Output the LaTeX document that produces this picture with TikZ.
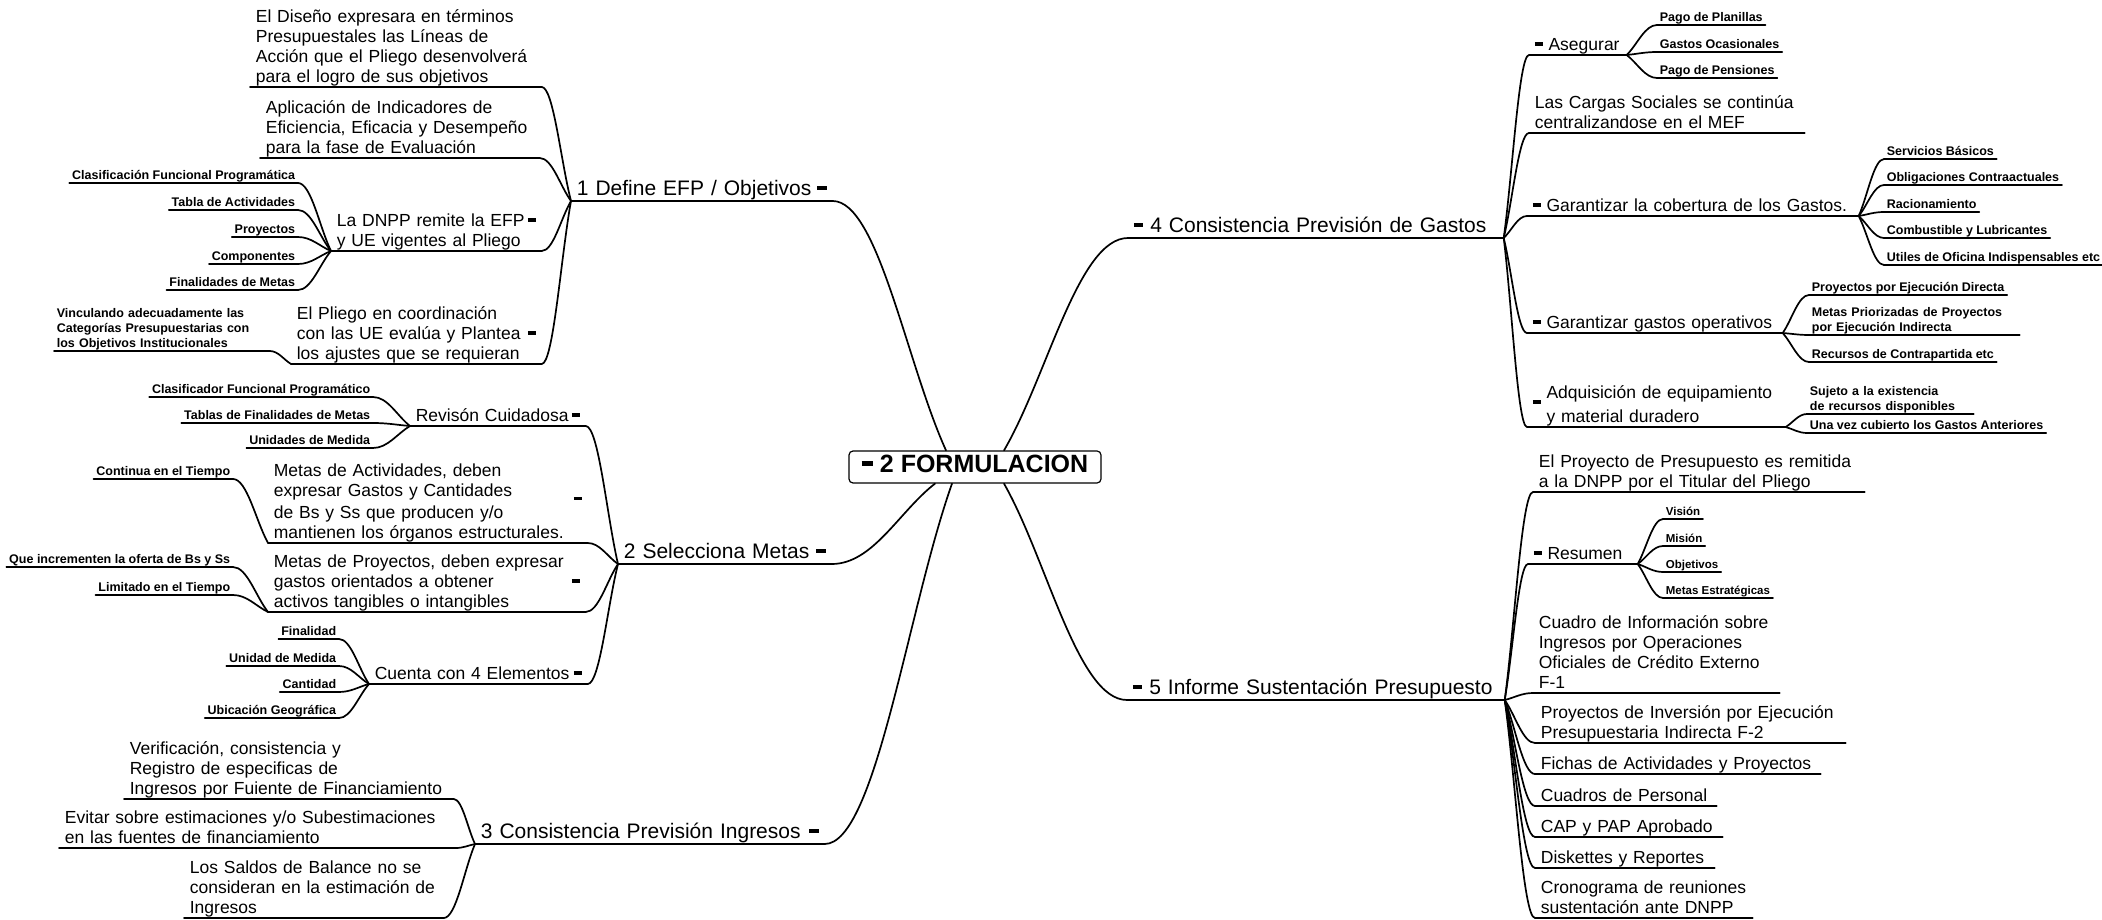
\documentclass[tikz,border=0pt]{standalone}
\usepackage{fontspec}
\setmainfont{Liberation Sans}
\usetikzlibrary{calc}

\newcommand\foldmark{\rule[.27em]{.45em}{.2em}}
\newcommand\foldright{\hskip 0pt plus 1filll\foldmark}

\begin{document}
\begin{tikzpicture}[x=1pt,y=-1pt,line width=1.7pt,line cap=round,
  every node/.style={inner ysep=0pt,execute at end node={\rule[-.22em]{0pt}{.22em}}},
  title/.style={font=\fontsize{21}{24}\selectfont,inner xsep=5pt,align=left},
  note/.style={font=\fontsize{17.5}{19.8}\selectfont,inner xsep=5pt,align=left},
  leaf/.style={font=\fontsize{12.5}{14.8}\selectfont\bfseries,inner xsep=2pt},
  tiny/.style={leaf,font=\fontsize{11.5}{13.5}\selectfont\bfseries},
  twig/.style={to path={.. controls ($(\tikztostart)!.35!(\tikztotarget)$)
    and ($(\tikztotarget)!.4!(\tikztostart|-\tikztotarget)$) .. (\tikztotarget)}}]

\path[use as bounding box,fill=white] (0,0) rectangle (2102,920);

\node[draw,line width=1.2pt,rounded corners=4pt,minimum width=252pt,minimum height=32pt,
  font=\fontsize{25}{28}\selectfont\bfseries] (formulacion) at (975,467) {\foldmark\ 2 FORMULACION};
\coordinate (f1) at ($(formulacion.north)+(-29,0)$);
\coordinate (f4) at ($(formulacion.north)+(29,0)$);
\coordinate (f2) at ($(formulacion.south)+(-40,0)$);
\coordinate (f3) at ($(formulacion.south)+(-23,0)$);
\coordinate (f5) at ($(formulacion.south)+(29,0)$);

% 1 Define EFP
\node[title,text width=250pt,anchor=south west] (b1) at (571,201) {1 Define EFP / Objetivos\foldright};
\node[note,text width=280pt,anchor=south west] (c11) at (250,87) {El Diseño expresara en términos\\Presupuestales las Líneas de\\Acción que el Pliego desenvolverá\\para el logro de sus objetivos};
\node[note,text width=268pt,anchor=south west] (c12) at (260,158) {Aplicación de Indicadores de\\Eficiencia, Eficacia y Desempeño\\para la fase de Evaluación};
\node[note,text width=199pt,anchor=south west] (c13) at (331,251) {La DNPP remite la EFP\foldright\\y UE vigentes al Pliego};
\node[note,text width=239pt,anchor=south west] (c14) at (291,364) {El Pliego en coordinación\\con las UE evalúa y Plantea\foldright\\los ajustes que se requieran};
\node[leaf,anchor=south east] (l131) at (298,183) {Clasificación Funcional Programática};
\node[leaf,anchor=south east] (l132) at (298,210) {Tabla de Actividades};
\node[leaf,anchor=south east] (l133) at (298,237) {Proyectos};
\node[leaf,anchor=south east] (l134) at (298,264) {Componentes};
\node[leaf,anchor=south east] (l135) at (298,290) {Finalidades de Metas};
\node[leaf,text width=210pt,align=left,anchor=south west] (l141) at (54,351) {Vinculando adecuadamente las\\Categorías Presupuestarias con\\los Objetivos Institucionales};

% 2 Selecciona Metas
\node[title,text width=202pt,anchor=south west] (b2) at (618,564) {2 Selecciona Metas\foldright};
\node[note,text width=164pt,anchor=south west] (c21) at (410,426) {Revisón Cuidadosa\foldright};
\node[note,text width=308pt,anchor=south west] (c22) at (268,543) {Metas de Actividades, deben\\expresar Gastos y Cantidades\hskip 0pt plus 1filll\raisebox{-.5em}{\foldmark}\\de Bs y Ss que producen y/o\\mantienen los órganos estructurales.};
\node[note,text width=306pt,anchor=south west] (c23) at (268,612) {Metas de Proyectos, deben expresar\\gastos orientados a obtener\foldright\\activos tangibles o intangibles};
\node[note,text width=207pt,anchor=south west] (c24) at (369,684) {Cuenta con 4 Elementos\foldright};
\node[leaf,anchor=south east] (l211) at (373,397) {Clasificador Funcional Programático};
\node[leaf,anchor=south east] (l212) at (373,423) {Tablas de Finalidades de Metas};
\node[leaf,anchor=south east] (l213) at (373,448) {Unidades de Medida};
\node[leaf,anchor=south east] (l221) at (233,479) {Continua en el Tiempo};
\node[leaf,anchor=south east] (l231) at (233,567) {Que incrementen la oferta de Bs y Ss};
\node[leaf,anchor=south east] (l232) at (233,595) {Limitado en el Tiempo};
\node[leaf,anchor=south east] (l241) at (339,639) {Finalidad};
\node[leaf,anchor=south east] (l242) at (339,666) {Unidad de Medida};
\node[leaf,anchor=south east] (l243) at (339,692) {Cantidad};
\node[leaf,anchor=south east] (l244) at (339,718) {Ubicación Geográfica};

% 3 Consistencia Ingresos
\node[title,text width=338pt,anchor=south west] (b3) at (475,844) {3 Consistencia Previsión Ingresos\foldright};
\node[note,text width=318pt,anchor=south west] (c31) at (124,799) {Verificación, consistencia y\\Registro de especificas de\\Ingresos por Fuiente de Financiamiento};
\node[note,text width=385pt,anchor=south west] (c32) at (59,848) {Evitar sobre estimaciones y/o Subestimaciones\\en las fuentes de financiamiento};
\node[note,text width=248pt,anchor=south west] (c33) at (184,918) {Los Saldos de Balance no se\\consideran en la estimación de\\Ingresos};

% 4 Consistencia Gastos
\node[title,text width=364pt,anchor=south west] (b4) at (1128,238) {\foldmark\ 4 Consistencia Previsión de Gastos};
\node[note,text width=86pt,anchor=south west] (c41) at (1529,55) {\foldmark\ Asegurar};
\node[note,text width=264pt,anchor=south west] (c42) at (1529,133) {Las Cargas Sociales se continúa\\centralizandose en el MEF};
\node[note,text width=320pt,anchor=south west] (c43) at (1527,216) {\foldmark\ Garantizar la cobertura de los Gastos.};
\node[note,text width=244pt,anchor=south west] (c44) at (1527,333) {\foldmark\ Garantizar gastos operativos};
\node[note,text width=247pt,anchor=south west] (c45) at (1527,427) {\raisebox{-.55em}{\foldmark}\ Adquisición de equipamiento\\\hphantom{\foldmark\ }y material duradero};
\node[leaf,anchor=south west] (l411) at (1657,25) {Pago de Planillas};
\node[leaf,anchor=south west] (l412) at (1657,52) {Gastos Ocasionales};
\node[leaf,anchor=south west] (l413) at (1657,78) {Pago de Pensiones};
\node[leaf,anchor=south west] (l431) at (1884,159) {Servicios Básicos};
\node[leaf,anchor=south west] (l432) at (1884,185) {Obligaciones Contraactuales};
\node[leaf,anchor=south west] (l433) at (1884,212) {Racionamiento};
\node[leaf,anchor=south west] (l434) at (1884,238) {Combustible y Lubricantes};
\node[leaf,anchor=south west] (l435) at (1884,265) {Utiles de Oficina Indispensables etc};
\node[leaf,anchor=south west] (l441) at (1809,295) {Proyectos por Ejecución Directa};
\node[leaf,text width=205pt,align=left,anchor=south west] (l442) at (1809,335) {Metas Priorizadas de Proyectos\\por Ejecución Indirecta};
\node[leaf,anchor=south west] (l443) at (1809,362) {Recursos de Contrapartida etc};
\node[leaf,text width=161pt,align=left,anchor=south west] (l451) at (1807,414) {Sujeto a la existencia\\de recursos disponibles};
\node[leaf,anchor=south west] (l452) at (1807,433) {Una vez cubierto los Gastos Anteriores};

% 5 Informe Sustentacion
\node[title,text width=366pt,anchor=south west] (b5) at (1127,700) {\foldmark\ 5 Informe Sustentación Presupuesto};
\node[note,text width=320pt,anchor=south west] (c51) at (1533,492) {El Proyecto de Presupuesto es remitida\\a la DNPP por el Titular del Pliego};
\node[note,text width=98pt,anchor=south west] (c52) at (1528,564) {\foldmark\ Resumen};
\node[note,text width=235pt,anchor=south west] (c53) at (1533,693) {Cuadro de Información sobre\\Ingresos por Operaciones\\Oficiales de Crédito Externo\\F-1};
\node[note,text width=299pt,anchor=south west] (c54) at (1535,743) {Proyectos de Inversión por Ejecución\\Presupuestaria Indirecta F-2};
\node[note,text width=274pt,anchor=south west] (c55) at (1535,774) {Fichas de Actividades y Proyectos};
\node[note,text width=170pt,anchor=south west] (c56) at (1535,806) {Cuadros de Personal};
\node[note,text width=176pt,anchor=south west] (c57) at (1535,837) {CAP y PAP Aprobado};
\node[note,text width=168pt,anchor=south west] (c58) at (1535,868) {Diskettes y Reportes};
\node[note,text width=206pt,anchor=south west] (c59) at (1535,918) {Cronograma de reuniones\\sustentación ante DNPP};
\node[tiny,anchor=south west] (l521) at (1663,519) {Visión};
\node[tiny,anchor=south west] (l522) at (1663,546) {Misión};
\node[tiny,anchor=south west] (l523) at (1663,572) {Objetivos};
\node[tiny,anchor=south west] (l524) at (1663,598) {Metas Estratégicas};

% underlines
\foreach \n in {b1,c11,c12,c13,c14,l131,l132,l133,l134,l135,l141,
  b2,c21,c22,c23,c24,l211,l212,l213,l221,l231,l232,l241,l242,l243,l244,
  b3,c31,c32,c33,
  b4,c41,c42,c43,c44,c45,l411,l412,l413,l431,l432,l433,l434,l435,l441,l442,l443,l451,l452,
  b5,c51,c52,c53,c54,c55,c56,c57,c58,c59,l521,l522,l523,l524}
  \draw (\n.south west) -- (\n.south east);

% main branches
\draw (f1) to[twig] (b1.south east);
\draw (f2) to[twig] (b2.south east);
\draw (f3) to[twig] (b3.south east);
\draw (f4) to[twig] (b4.south west);
\draw (f5) to[twig] (b5.south west);

% left side
\foreach \kid in {c11,c12,c13,c14} \draw (b1.south west) to[twig] (\kid.south east);
\foreach \kid in {l131,l132,l133,l134,l135} \draw (c13.south west) to[twig] (\kid.south east);
\draw (c14.south west) to[twig] (l141.south east);
\foreach \kid in {c21,c22,c23,c24} \draw (b2.south west) to[twig] (\kid.south east);
\foreach \kid in {l211,l212,l213} \draw (c21.south west) to[twig] (\kid.south east);
\draw (c22.south west) to[twig] (l221.south east);
\foreach \kid in {l231,l232} \draw (c23.south west) to[twig] (\kid.south east);
\foreach \kid in {l241,l242,l243,l244} \draw (c24.south west) to[twig] (\kid.south east);
\foreach \kid in {c31,c32,c33} \draw (b3.south west) to[twig] (\kid.south east);

% right side
\foreach \kid in {c41,c42,c43,c44,c45} \draw (b4.south east) to[twig] (\kid.south west);
\foreach \kid in {l411,l412,l413} \draw (c41.south east) to[twig] (\kid.south west);
\foreach \kid in {l431,l432,l433,l434,l435} \draw (c43.south east) to[twig] (\kid.south west);
\foreach \kid in {l441,l442,l443} \draw (c44.south east) to[twig] (\kid.south west);
\foreach \kid in {l451,l452} \draw (c45.south east) to[twig] (\kid.south west);
\foreach \kid in {c51,c52,c53,c54,c55,c56,c57,c58,c59} \draw (b5.south east) to[twig] (\kid.south west);
\foreach \kid in {l521,l522,l523,l524} \draw (c52.south east) to[twig] (\kid.south west);

\end{tikzpicture}
\end{document}
